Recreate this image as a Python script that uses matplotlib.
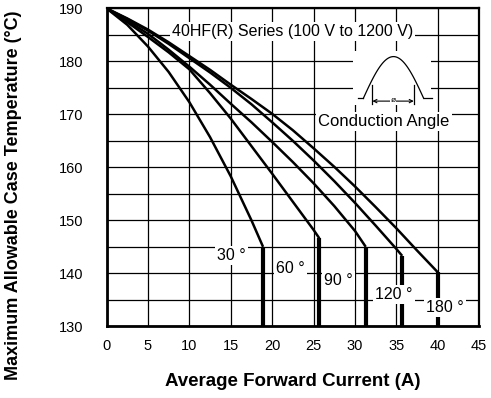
import numpy as np
import matplotlib
matplotlib.use("Agg")
from matplotlib import pyplot as plt

plt.rcParams["font.family"] = ["Liberation Sans", "DejaVu Sans"]

# conduction angle curves: average forward current (A) vs max case temperature (C)
angle_labels = ["30 °", "60 °", "90 °", "120 °", "180 °"]

current_30 = [0, 2.5, 5, 7.5, 10, 12.5, 15, 17.5, 18.9]
temp_30 = [190, 186.9, 182.8, 178.0, 172.3, 165.7, 158.3, 150.0, 145.0]

current_60 = [0, 2.5, 5, 7.5, 10, 12.5, 15, 17.5, 20, 22.5, 25, 25.7]
temp_60 = [190, 187.4, 184.6, 181.7, 178.5, 174.0, 169.2, 164.0, 158.8, 153.5, 148.2, 146.6]

current_90 = [0, 2.5, 5, 7.5, 10, 12.5, 15, 17.5, 20, 22.5, 25, 27.5, 30, 31.3]
temp_90 = [190, 187.7, 185.2, 182.2, 179.0, 175.6, 172.0, 168.5, 164.8, 161.0,
           157.0, 152.7, 148.0, 145.0]

current_120 = [0, 2.5, 5, 7.5, 10, 12.5, 15, 17.5, 20, 22.5, 25, 27.5, 30, 32.5, 35, 35.7]
temp_120 = [190, 188.0, 185.8, 183.3, 180.6, 177.9, 175.0, 171.9, 168.5, 165.0,
            161.3, 157.4, 153.3, 149.0, 144.6, 143.3]

current_180 = [0, 2.5, 5, 7.5, 10, 12.5, 15, 17.5, 20, 22.5, 25, 27.5, 30, 32.5,
               35, 37.5, 40]
temp_180 = [190, 188.1, 186.0, 183.6, 181.0, 178.4, 175.6, 172.9, 170.1, 167.0,
            163.6, 160.1, 156.4, 152.5, 148.5, 144.3, 140.2]

curves = [
    (current_30, temp_30),
    (current_60, temp_60),
    (current_90, temp_90),
    (current_120, temp_120),
    (current_180, temp_180),
]

x_ticks = [0, 5, 10, 15, 20, 25, 30, 35, 40, 45]
y_ticks = [130, 140, 150, 160, 170, 180, 190]

# where the angle labels sit (data coords)
label_pos = [(15.1, 143.3), (22.2, 140.9), (28.0, 138.7), (34.7, 136.0), (40.9, 133.5)]

fig = plt.figure(figsize=(4.91, 3.98), dpi=100)
ax = fig.add_axes([0.217, 0.180, 0.759, 0.799])

ax.set_xlim(0, 45)
ax.set_ylim(130, 190)
ax.set_xticks(x_ticks)
ax.set_yticks(y_ticks)
ax.set_yticks(np.arange(135, 190, 10), minor=True)
ax.grid(True, which="both", color="black", linewidth=0.9, zorder=1)
ax.set_axisbelow(True)
ax.tick_params(which="both", length=0, labelsize=10.5)
ax.tick_params(axis="x", pad=9)
ax.tick_params(axis="y", pad=17)
for side in ["left", "bottom"]:
    ax.spines[side].set_linewidth(2.0)
for side in ["right", "top"]:
    ax.spines[side].set_linewidth(1.6)

for cur, temp in curves:
    ax.plot(cur, temp, color="black", linewidth=1.8, zorder=3, solid_capstyle="butt")
    ax.plot([cur[-1], cur[-1]], [temp[-1], 130], color="black", linewidth=3.0,
            zorder=3, solid_capstyle="butt")

box = dict(facecolor="white", edgecolor="none", pad=1.5)
for text, (lx, ly) in zip(angle_labels, label_pos):
    ax.text(lx, ly, text, ha="center", va="center", fontsize=11.5, bbox=box, zorder=5)

ax.text(7.9, 185.6, "40HF(R) Series (100 V to 1200 V)", ha="left", va="center",
        fontsize=11.5, bbox=box, zorder=5)

# conduction angle icon
ax.add_patch(plt.Rectangle((29.8, 171.8), 9.4, 10.2, facecolor="white",
                           edgecolor="none", zorder=4))
t = np.linspace(0, np.pi, 60)
wx = 31.0 + (38.3 - 31.0) * t / np.pi
wy = 173.0 + 7.9 * np.sin(t)
ax.plot(wx, wy, color="black", linewidth=0.9, zorder=5)
ax.plot([30.4, 31.0], [173.0, 173.0], color="black", linewidth=0.9, zorder=5)
ax.plot([38.3, 39.3], [173.0, 173.0], color="black", linewidth=0.9, zorder=5)
for vx in [32.1, 37.1]:
    ax.plot([vx, vx], [171.9, 175.5], color="black", linewidth=0.9, zorder=5)
ax.annotate("", xy=(32.1, 172.5), xytext=(37.1, 172.5),
            arrowprops=dict(arrowstyle="<->", color="black", lw=0.8,
                            shrinkA=0, shrinkB=0, mutation_scale=6), zorder=5)
ax.text(34.6, 172.6, "ø", ha="center", va="center", fontsize=6,
        bbox=dict(facecolor="white", edgecolor="none", pad=0.3), zorder=6)
ax.text(33.5, 168.6, "Conduction Angle", ha="center", va="center", fontsize=12,
        bbox=box, zorder=5)

ax.set_xlabel("Average Forward Current (A)", fontsize=13.5, fontweight="bold")
ax.set_ylabel("Maximum Allowable Case Temperature (°C)", fontsize=13,
              fontweight="bold")
ax.xaxis.set_label_coords(0.5, -0.146)
ax.yaxis.set_label_coords(-0.228, 0.413)

fig.savefig("out.png", dpi=100)
